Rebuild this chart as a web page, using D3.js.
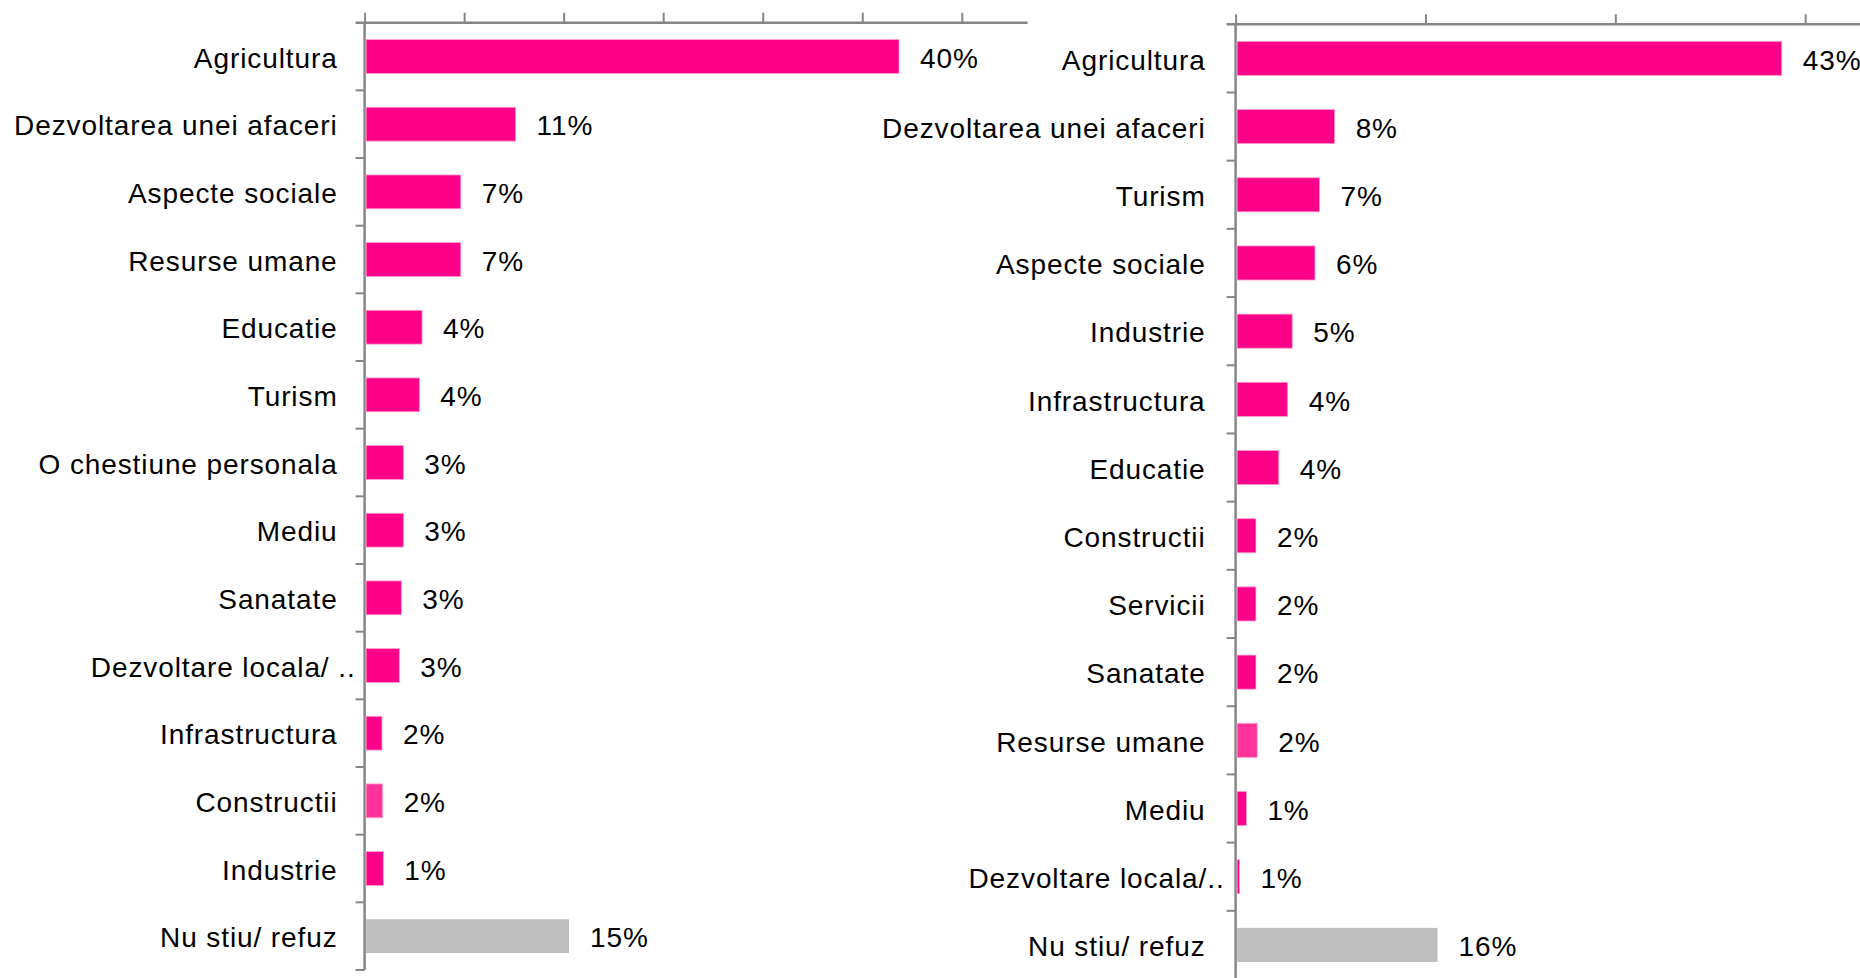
<!DOCTYPE html>
<html>
<head>
    <meta charset="utf-8">
    <script src="https://d3js.org/d3.v7.min.js"></script>
    <style>
        body { margin: 0; background: #fff; }
        text { font-family: "Liberation Sans", Arial, sans-serif; fill: #000; font-size: 28px; letter-spacing: 0.9px; }
    </style>
</head>
<body>
    <div id="chart"></div>

    <script>
        // left panel data
        const leftCategories = ["Agricultura", "Dezvoltarea unei afaceri", "Aspecte sociale", "Resurse umane",
            "Educatie", "Turism", "O chestiune personala", "Mediu", "Sanatate", "Dezvoltare locala/ ..",
            "Infrastructura", "Constructii", "Industrie", "Nu stiu/ refuz"];
        const leftValues = [0.400, 0.113, 0.072, 0.072, 0.043, 0.041, 0.029, 0.029, 0.0275, 0.026,
            0.013, 0.0135, 0.014, 0.153];
        const leftLabels = ["40%", "11%", "7%", "7%", "4%", "4%", "3%", "3%", "3%", "3%", "2%", "2%", "1%", "15%"];

        // right panel data
        const rightCategories = ["Agricultura", "Dezvoltarea unei afaceri", "Turism", "Aspecte sociale",
            "Industrie", "Infrastructura", "Educatie", "Constructii", "Servicii", "Sanatate",
            "Resurse umane", "Mediu", "Dezvoltare locala/..", "Nu stiu/ refuz"];
        const rightValues = [0.430, 0.078, 0.066, 0.0625, 0.0446, 0.041, 0.034, 0.016, 0.016, 0.016,
            0.017, 0.0085, 0.003, 0.159];
        const rightLabels = ["43%", "8%", "7%", "6%", "5%", "4%", "4%", "2%", "2%", "2%", "2%", "1%", "1%", "16%"];

        const W = 1860, H = 978;
        const PINK = "#ff0088", LIGHT_PINK = "#ff3399", GREY = "#bfbfbf", AXIS = "#868686";

        const svg = d3.select("#chart")
            .append("svg")
            .attr("width", W)
            .attr("height", H);

        ///////////////////////////////////////////////////////////////////////

        function drawPanel(cfg) {
            const g = svg.append("g").attr("transform", `translate(${cfg.x0},0)`);

            const x = d3.scaleLinear()
                .domain([0, cfg.axisEnd / cfg.pxPerUnit])
                .range([0, cfg.axisEnd]);

            const y = d3.scaleBand()
                .domain(cfg.categories)
                .range([cfg.top, cfg.bottom])
                .paddingInner(0.5)
                .paddingOuter(0.25);

            // top axis (no labels), line extended left past the corner
            const xAxis = d3.axisTop(x)
                .tickValues(d3.range(0, x.domain()[1], cfg.tickStep))
                .tickSize(10)
                .tickSizeOuter(0)
                .tickFormat("");

            const ax = g.append("g")
                .attr("transform", `translate(0,${cfg.top})`)
                .call(xAxis);
            ax.select(".domain").remove();
            ax.selectAll("line").attr("stroke", AXIS).attr("stroke-width", 2);
            ax.append("line")
                .attr("x1", -9).attr("x2", cfg.axisEnd)
                .attr("stroke", AXIS).attr("stroke-width", 2.5);

            // vertical axis with ticks between categories
            g.append("line")
                .attr("x1", 0).attr("x2", 0)
                .attr("y1", cfg.top).attr("y2", cfg.axisBottom)
                .attr("stroke", AXIS).attr("stroke-width", 2.5);

            const bounds = d3.range(1, cfg.categories.length + 1).map(i => cfg.top + i * y.step());
            g.selectAll(".ytick")
                .data(bounds)
                .enter()
                .append("line")
                .attr("class", "ytick")
                .attr("x1", -9).attr("x2", 0)
                .attr("y1", d => d).attr("y2", d => d)
                .attr("stroke", AXIS).attr("stroke-width", 2);

            // bars
            g.selectAll(".bar")
                .data(cfg.categories)
                .enter()
                .append("rect")
                .attr("class", "bar")
                .attr("x", 1.5)
                .attr("y", d => y(d))
                .attr("width", (d, i) => Math.max(0, x(cfg.values[i]) - 1.5))
                .attr("height", y.bandwidth())
                .attr("fill", d => d === "Nu stiu/ refuz" ? GREY : (d === cfg.light ? LIGHT_PINK : PINK))
                .attr("stroke", d => d === "Nu stiu/ refuz" ? "none" : "#ff9fcf")
                .attr("stroke-width", 0.8);

            // category labels (truncated ones run closer to the axis)
            g.selectAll(".cat")
                .data(cfg.categories)
                .enter()
                .append("text")
                .attr("class", "cat")
                .attr("x", d => d.endsWith("..") ? -cfg.cutGap : -cfg.labelGap)
                .attr("y", d => y(d) + y.bandwidth() / 2)
                .attr("dy", "0.4em")
                .attr("text-anchor", "end")
                .text(d => d);

            // value labels
            g.selectAll(".val")
                .data(cfg.categories)
                .enter()
                .append("text")
                .attr("class", "val")
                .attr("x", (d, i) => x(cfg.values[i]) + 21)
                .attr("y", d => y(d) + y.bandwidth() / 2)
                .attr("dy", "0.4em")
                .text((d, i) => cfg.labels[i]);
        }

        ///////////////////////////////////////////////////////////////////////

        drawPanel({
            categories: leftCategories, values: leftValues, labels: leftLabels,
            x0: 364.6, top: 22.7, bottom: 970, axisBottom: 970,
            pxPerUnit: 1336, axisEnd: 663, tickStep: 0.0745,
            labelGap: 27, cutGap: 9, light: "Constructii"
        });

        drawPanel({
            categories: rightCategories, values: rightValues, labels: rightLabels,
            x0: 1235.6, top: 24.3, bottom: 979, axisBottom: 978,
            pxPerUnit: 1270, axisEnd: 625, tickStep: 0.1495,
            labelGap: 30, cutGap: 11, light: "Resurse umane"
        });
    </script>
</body>
</html>
